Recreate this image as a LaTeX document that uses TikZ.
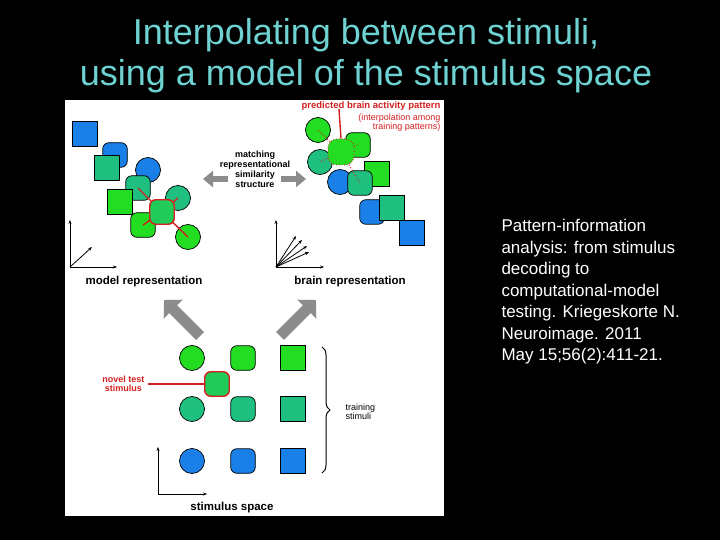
\documentclass[tikz,border=0pt]{standalone}
\usepackage{fontspec}
\setmainfont{Liberation Sans}
\usetikzlibrary{decorations.pathreplacing,arrows.meta}
\definecolor{cg}{HTML}{22DD22}
\definecolor{ct}{HTML}{1FBF7F}
\definecolor{cb}{HTML}{1A7FE6}
\definecolor{ttl}{HTML}{6ED2D2}
\definecolor{rd}{HTML}{D42020}
\definecolor{gr}{HTML}{8C8C8C}
\begin{document}
\begin{tikzpicture}[x=1pt,y=-1pt,
 sq/.style={draw=black,line width=0.7pt,minimum size=24.5pt,inner sep=0pt},
 rs/.style={sq,rounded corners=6pt},
 ci/.style={draw=black,line width=0.7pt,circle,minimum size=25pt,inner sep=0pt},
 lab/.style={font=\bfseries\fontsize{11.5}{13}\selectfont,align=center},
 sm/.style={font=\fontsize{9}{9}\selectfont,align=center},
 ax/.style={-{Stealth[length=4pt]},line width=0.8pt},
 big/.style={-{Triangle[length=13pt,width=26pt]},line width=11pt,gr},
 mid/.style={-{Triangle[length=10pt,width=16pt]},line width=6pt,gr},
 rl/.style={rd,line width=1.4pt}]
\fill[black] (0,0) rectangle (720,540);
\useasboundingbox (0,0) rectangle (720,540);
\fill[white] (65,100) rectangle (444,516);
\node[ttl,font=\fontsize{36}{41}\selectfont,align=center] (title) at (366,56) {Interpolating between stimuli,\\using a model of the stimulus space};
\node[white,font=\fontsize{17}{21.5}\selectfont,align=left,anchor=north west] (ref) at (498,216) {Pattern-information\\analysis: from stimulus\\decoding to\\computational-model\\testing. Kriegeskorte N.\\Neuroimage. 2011\\May 15;56(2):411-21.};
% model representation
\node[sq,fill=cb] (m1) at (85,134) {};
\node[rs,fill=cb] (m2) at (115,155) {};
\node[sq,fill=ct] (m3) at (107,168) {};
\node[ci,fill=cb] (m4) at (148,170) {};
\node[rs,fill=ct] (m5) at (138,188) {};
\node[sq,fill=cg] (m6) at (120,202) {};
\node[ci,fill=ct] (m7) at (178,198) {};
\node[rs,fill=cg] (m9) at (143,225) {};
\node[ci,fill=cg] (m10) at (188,237) {};
\draw[rl] (162,212) -- (m5.center) (162,212) -- (m7.center) (162,212) -- (m9.center) (162,212) -- (m10.center);
\node[rs,fill=ct!60!cg,draw=rd,line width=1.4pt] (m8) at (162,212) {};
\coordinate (mo) at (70,267);
\draw[ax] (mo) -- (70,220);
\draw[ax] (mo) -- (117,267);
\draw[ax] (mo) -- (92,247);
\node[lab] (ml) at (144,282) {model representation};
% brain representation
\node[ci,fill=cg] (b1) at (318,130) {};
\node[rs,fill=cg] (b2) at (358,145) {};
\node[ci,fill=ct] (b3) at (320,162) {};
\node[sq,fill=cg] (b4) at (377,174) {};
\node[ci,fill=cb] (b5) at (340,182) {};
\node[rs,fill=ct] (b6) at (360,183) {};
\node[rs,fill=cb] (b7) at (372,212) {};
\node[sq,fill=ct] (b8) at (392,208) {};
\node[sq,fill=cb] (b9) at (412,233) {};
\draw[rd,dotted,line width=1pt] (341,152) -- (b1.center) (341,152) -- (b2.center) (341,152) -- (b3.center) (341,152) -- (b6.center);
\node[rs,fill=cg,draw=rd,dotted,line width=1pt,minimum size=26pt,rounded corners=9pt] (b0) at (341,152) {};
\draw[rl] (b0.north) -- (339,109);
\node[lab,rd,anchor=east,font=\bfseries\fontsize{9.5}{10}\selectfont] (pl) at (444,106) {predicted brain activity pattern};
\node[sm,rd,anchor=north east,align=right] (pl2) at (444,110) {(interpolation among\\training patterns)};
\coordinate (bo) at (276,267);
\draw[ax] (bo) -- (276,220);
\draw[ax] (bo) -- (324,267);
\draw[ax] (bo) -- (296,236);
\draw[ax] (bo) -- (302,240);
\draw[ax] (bo) -- (307,246);
\draw[ax] (bo) -- (309,252);
\node[lab] (bl) at (350,282) {brain representation};
% middle
\node[sm,font=\bfseries\fontsize{9}{10}\selectfont] (mt) at (255,169) {matching\\representational\\similarity\\structure};
\coordinate (ma) at (228,179); \coordinate (mb) at (281,179);
\draw[mid] (ma) -- (203,179);
\draw[mid] (mb) -- (306,179);
% big arrows
\coordinate (g1) at (200,336); \coordinate (g2) at (280,336);
\draw[big] (g1) -- (164,300);
\draw[big] (g2) -- (316,300);
% stimulus space
\node[ci,fill=cg] (s11) at (192,358) {};
\node[rs,fill=cg] (s12) at (243,358) {};
\node[sq,fill=cg] (s13) at (293,358) {};
\node[ci,fill=ct] (s21) at (192,409) {};
\node[rs,fill=ct] (s22) at (243,409) {};
\node[sq,fill=ct] (s23) at (293,409) {};
\node[ci,fill=cb] (s31) at (192,461) {};
\node[rs,fill=cb] (s32) at (243,461) {};
\node[sq,fill=cb] (s33) at (293,461) {};
\node[rs,fill=ct!60!cg,draw=rd,line width=1.4pt] (nv) at (217,384) {};
\node[sm,rd,font=\bfseries\fontsize{9}{9}\selectfont,anchor=east] (nl) at (148,384) {novel test\\stimulus};
\draw[rl] (nl.east) -- (nv.west);
\draw[decorate,decoration={brace,amplitude=8pt},line width=1pt] (322,347) -- (322,473);
\node[sm,anchor=west,align=left] (tl) at (342,412) {training\\stimuli};
\coordinate (so) at (158,494);
\draw[ax] (so) -- (158,447);
\draw[ax] (so) -- (207,494);
\node[lab] (sl) at (232,508) {stimulus space};
\end{tikzpicture}
\end{document}
